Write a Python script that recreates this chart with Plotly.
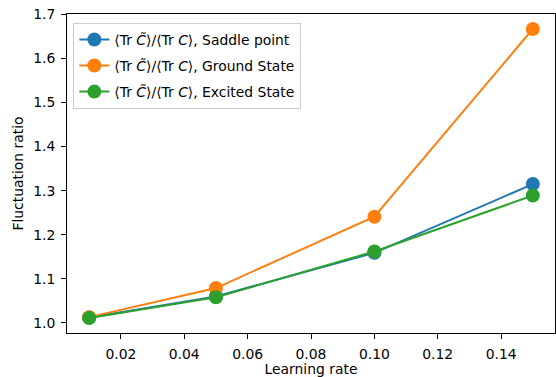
import plotly.graph_objects as go

learning_rate = [0.01, 0.05, 0.10, 0.15]
saddle = [1.012, 1.060, 1.159, 1.315]
ground = [1.013, 1.079, 1.241, 1.667]
excited = [1.011, 1.058, 1.162, 1.289]

prefix = "⟨Tr <i>C̃</i>⟩/⟨Tr <i>C</i>⟩, "
series = [
    ("Saddle point", saddle, "#1f77b4"),
    ("Ground State", ground, "#ff7f0e"),
    ("Excited State", excited, "#2ca02c"),
]

fig = go.Figure()
for i, (name, vals, color) in enumerate(series):
    fig.add_trace(go.Scatter(
        x=learning_rate, y=vals, mode="lines+markers", name=prefix + name,
        legendgroup="g%d" % i,
        line=dict(color=color, width=2),
        marker=dict(color=color, size=14),
    ))

font = dict(family="DejaVu Sans", size=13.9, color="black")
axis_common = dict(
    showgrid=False, zeroline=False, showline=True, linecolor="black", linewidth=1,
    mirror=True, ticks="outside", ticklen=5, tickwidth=1, tickcolor="black",
    tickfont=font, ticklabelstandoff=3, automargin=False,
)
fig.update_layout(
    width=556, height=377,
    margin=dict(l=67, r=1, t=14, b=44),
    paper_bgcolor="white", plot_bgcolor="white",
    font=font,
    showlegend=True,
    legend=dict(
        x=0.013, y=0.972, xanchor="left", yanchor="top",
        bgcolor="rgba(255,255,255,0.8)", bordercolor="#cccccc", borderwidth=1,
        font=font, traceorder="grouped", tracegroupgap=5, itemwidth=30,
    ),
    xaxis=dict(axis_common, range=[0.003, 0.157],
               tickvals=[0.02, 0.04, 0.06, 0.08, 0.10, 0.12, 0.14],
               ticktext=["0.02", "0.04", "0.06", "0.08", "0.10", "0.12", "0.14"],
               title=dict(text="Learning rate", font=font, standoff=5)),
    yaxis=dict(axis_common, range=[0.977, 1.701],
               tickvals=[1.0, 1.1, 1.2, 1.3, 1.4, 1.5, 1.6, 1.7],
               ticktext=["1.0", "1.1", "1.2", "1.3", "1.4", "1.5", "1.6", "1.7"],
               title=dict(text="Fluctuation ratio", font=font, standoff=6)),
)

fig.write_html("out.html", config={"displayModeBar": False},
               post_script="document.body.style.margin='0';document.body.style.overflow='hidden';")
